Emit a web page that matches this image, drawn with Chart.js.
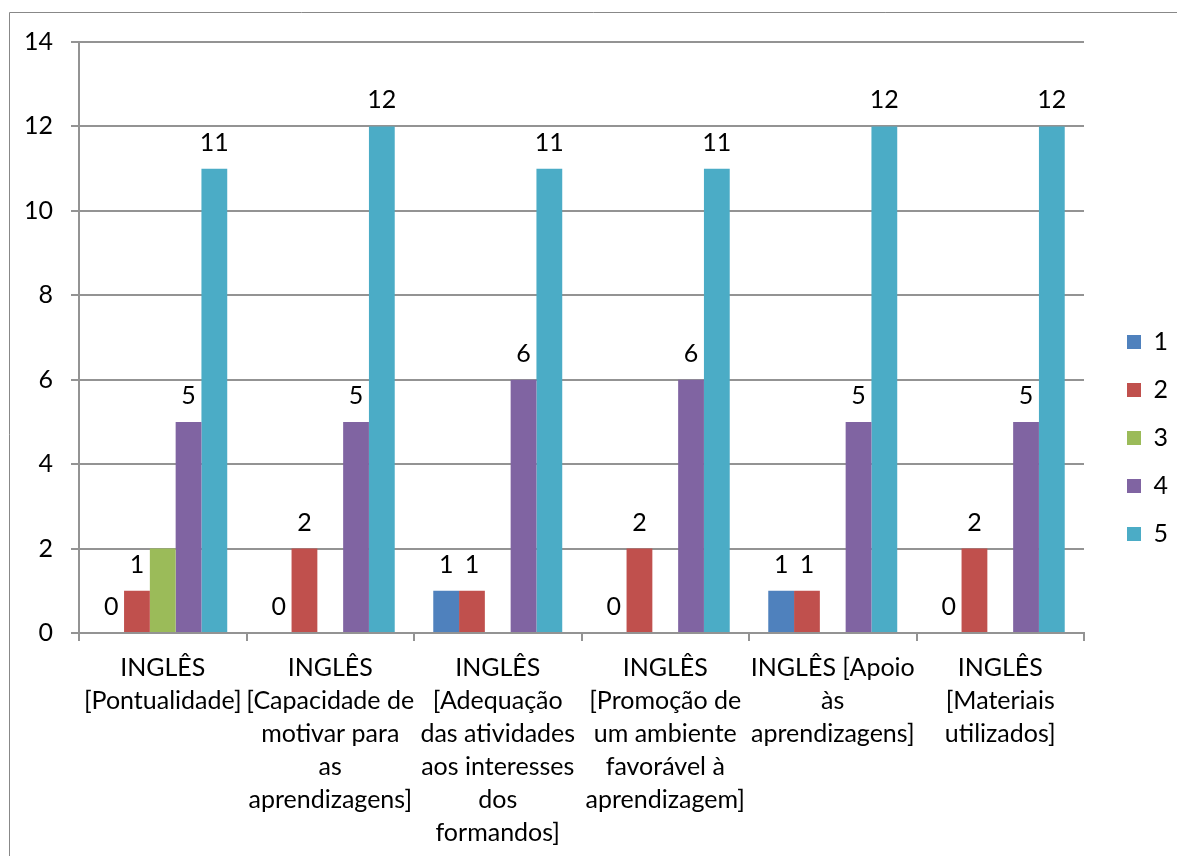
<!DOCTYPE html>
<html>
<head>
<meta charset="utf-8">
<script src="https://cdn.jsdelivr.net/npm/chart.js@4.4.0/dist/chart.umd.min.js"></script>
<style>
html,body{margin:0;padding:0;background:#ffffff;overflow:hidden;}
#wrap{width:1177px;height:856px;position:relative;}
</style>
</head>
<body>
<div id="wrap"><canvas id="c" width="1177" height="856"></canvas></div>
<script>
// ---- data ----
const categories = [
  ["INGLÊS", "[Pontualidade]"],
  ["INGLÊS", "[Capacidade de", "motivar para", "as", "aprendizagens]"],
  ["INGLÊS", "[Adequação", "das atividades", "aos interesses", "dos", "formandos]"],
  ["INGLÊS", "[Promoção de", "um ambiente", "favorável à", "aprendizagem]"],
  ["INGLÊS [Apoio", "às", "aprendizagens]"],
  ["INGLÊS", "[Materiais", "utilizados]"]
];
const seriesNames = ["1", "2", "3", "4", "5"];
const series1 = [0, 0, 1, 0, 1, 0];
const series2 = [1, 2, 1, 2, 1, 2];
const series3 = [2, 0, 0, 0, 0, 0];
const series4 = [5, 5, 6, 6, 5, 5];
const series5 = [11, 12, 11, 11, 12, 12];
const yMin = 0, yMax = 14, yStep = 2;
const labelledSeries = [true, true, false, true, true];

// ---- styles ----
const colors = ["#4F81BD", "#C0504D", "#9BBB59", "#8064A2", "#4BACC6"];
const FONT = "Lato";
const FS = 25;
const GRID = "#939393";

const allSeries = [series1, series2, series3, series4, series5];

const valueLabels = {
  id: "valueLabels",
  afterDatasetsDraw(chart) {
    const ctx = chart.ctx;
    ctx.save();
    ctx.font = FS + "px " + FONT;
    ctx.fillStyle = "#000";
    ctx.textAlign = "center";
    ctx.textBaseline = "middle";
    chart.data.datasets.forEach((ds, i) => {
      if (!labelledSeries[i]) return;
      chart.getDatasetMeta(i).data.forEach((el, j) => {
        ctx.fillText(String(ds.data[j]), el.x, el.y - 26);
      });
    });
    ctx.restore();
  }
};

const frame = {
  id: "frame",
  beforeDraw(chart) {
    const ctx = chart.ctx;
    ctx.save();
    ctx.fillStyle = "#fff";
    ctx.fillRect(0, 0, chart.width, chart.height);
    ctx.strokeStyle = "#888888";
    ctx.lineWidth = 1;
    ctx.beginPath();
    ctx.moveTo(9.5, chart.height + 2);
    ctx.lineTo(9.5, 12.5);
    ctx.lineTo(chart.width + 2, 12.5);
    ctx.stroke();
    ctx.restore();
  }
};

new Chart(document.getElementById("c"), {
  type: "bar",
  data: {
    labels: categories,
    datasets: allSeries.map((d, i) => ({
      label: seriesNames[i],
      data: d,
      backgroundColor: colors[i],
      borderWidth: 0,
      categoryPercentage: 0.77,
      barPercentage: 1.0
    }))
  },
  options: {
    responsive: false,
    animation: false,
    events: [],
    layout: { padding: { top: 20, bottom: 0, left: 0, right: 0 } },
    font: { family: FONT, size: FS },
    plugins: {
      tooltip: { enabled: false },
      title: {
        display: true,
        text: "",
        font: { size: 10, lineHeight: 1 },
        padding: { top: 12, bottom: 0 }
      },
      legend: {
        position: "right",
        align: "center",
        maxWidth: 73,
        labels: {
          boxWidth: 14,
          boxHeight: 14,
          padding: 23,
          color: "#000",
          font: { family: FONT, size: FS }
        }
      }
    },
    scales: {
      x: {
        offset: true,
        grid: { display: true, offset: true, drawOnChartArea: false, drawTicks: true, tickLength: 8, color: GRID, lineWidth: 2 },
        border: { display: true, color: GRID, width: 2 },
        ticks: {
          color: "#000",
          font: { family: FONT, size: FS, lineHeight: 33 / FS },
          padding: 10,
          maxRotation: 0,
          minRotation: 0,
          autoSkip: false
        },
        afterFit(s) { s.height = 223; }
      },
      y: {
        min: yMin,
        max: yMax,
        grid: { display: true, drawOnChartArea: true, drawTicks: true, tickLength: 8, color: GRID, lineWidth: 2 },
        border: { display: true, color: GRID, width: 2 },
        ticks: {
          stepSize: yStep,
          color: "#000",
          padding: 18,
          font: { family: FONT, size: FS }
        },
        afterFit(s) { s.width = 79; }
      },
      gap: {
        type: "linear",
        position: "right",
        display: true,
        grid: { display: false },
        border: { display: false },
        ticks: { display: false },
        afterFit(s) { s.width = 20; }
      }
    }
  },
  plugins: [frame, valueLabels]
});
</script>
</body>
</html>
